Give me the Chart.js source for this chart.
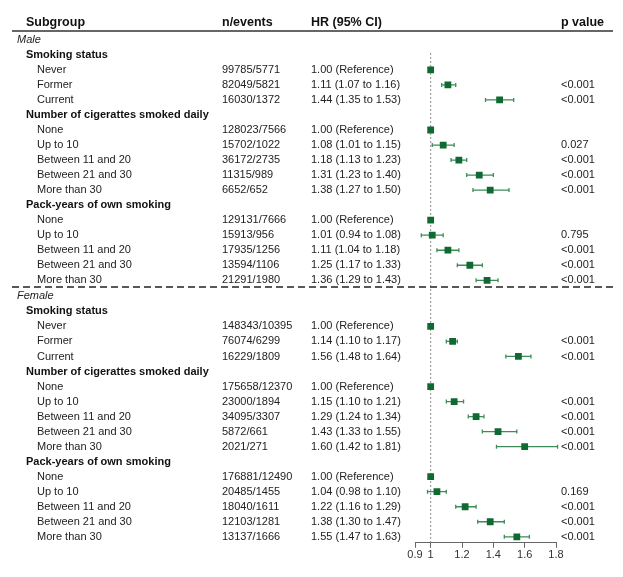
<!DOCTYPE html>
<html>
<head>
<meta charset="utf-8">
<script src="https://cdn.jsdelivr.net/npm/chart.js@4.4.1/dist/chart.umd.min.js"></script>
<style>
  html, body { margin: 0; padding: 0; background: #fff; }
  #wrap { width: 623px; height: 577px; position: relative; }
</style>
</head>
<body>
<div id="wrap"><canvas id="forest"></canvas></div>
<script>
/* ================= DATA ================= */
const sexes = ["Male", "Female"];
const groupTitles = ["Smoking status", "Number of cigerattes smoked daily", "Pack-years of own smoking"];
const groupLevels = [
  ["Never", "Former", "Current"],
  ["None", "Up to 10", "Between 11 and 20", "Between 21 and 30", "More than 30"],
  ["None", "Up to 10", "Between 11 and 20", "Between 21 and 30", "More than 30"]
];

const maleEvents = ["99785/5771", "82049/5821", "16030/1372", "128023/7566", "15702/1022", "36172/2735", "11315/989", "6652/652", "129131/7666", "15913/956", "17935/1256", "13594/1106", "21291/1980"];
const maleHR   = [1.00, 1.11, 1.44, 1.00, 1.08, 1.18, 1.31, 1.38, 1.00, 1.01, 1.11, 1.25, 1.36];
const maleLow  = [null, 1.07, 1.35, null, 1.01, 1.13, 1.23, 1.27, null, 0.94, 1.04, 1.17, 1.29];
const maleHigh = [null, 1.16, 1.53, null, 1.15, 1.23, 1.40, 1.50, null, 1.08, 1.18, 1.33, 1.43];
const maleP    = ["", "<0.001", "<0.001", "", "0.027", "<0.001", "<0.001", "<0.001", "", "0.795", "<0.001", "<0.001", "<0.001"];

const femaleEvents = ["148343/10395", "76074/6299", "16229/1809", "175658/12370", "23000/1894", "34095/3307", "5872/661", "2021/271", "176881/12490", "20485/1455", "18040/1611", "12103/1281", "13137/1666"];
const femaleHR   = [1.00, 1.14, 1.56, 1.00, 1.15, 1.29, 1.43, 1.60, 1.00, 1.04, 1.22, 1.38, 1.55];
const femaleLow  = [null, 1.10, 1.48, null, 1.10, 1.24, 1.33, 1.42, null, 0.98, 1.16, 1.30, 1.47];
const femaleHigh = [null, 1.17, 1.64, null, 1.21, 1.34, 1.55, 1.81, null, 1.10, 1.29, 1.47, 1.63];
const femaleP    = ["", "<0.001", "<0.001", "", "<0.001", "<0.001", "<0.001", "<0.001", "", "0.169", "<0.001", "<0.001", "<0.001"];

const xTicks = [0.9, 1, 1.2, 1.4, 1.6, 1.8];

/* ================= ROWS ================= */
const FONT = '"Liberation Sans", Arial, sans-serif';
const sexData = [
  { events: maleEvents, hr: maleHR, lo: maleLow, hi: maleHigh, p: maleP, offset: 0 },
  { events: femaleEvents, hr: femaleHR, lo: femaleLow, hi: femaleHigh, p: femaleP, offset: 17.07 }
];

const rows = [];
const items = [];
sexes.forEach((sex, s) => {
  const d = sexData[s];
  let row = d.offset;
  rows.push({ kind: "sex", text: sex, y: row });
  row++;
  let k = 0;
  groupTitles.forEach((title, g) => {
    rows.push({ kind: "group", text: title, y: row });
    row++;
    groupLevels[g].forEach(level => {
      const it = {
        kind: "item", text: level, y: row,
        events: d.events[k], hr: d.hr[k], lo: d.lo[k], hi: d.hi[k], p: d.p[k]
      };
      it.hrText = it.lo === null
        ? "1.00 (Reference)"
        : `${it.hr.toFixed(2)} (${it.lo.toFixed(2)} to ${it.hi.toFixed(2)})`;
      rows.push(it);
      items.push(it);
      row++;
      k++;
    });
  });
});

const GREEN = "#0f6a31";
const WHISKER = "#3d8c5a";

/* ================= PLUGIN: table text + whiskers ================= */
const forestPlugin = {
  id: "forestPlugin",
  beforeDatasetsDraw(chart) {
    const { ctx, scales: { x, y } } = chart;
    ctx.save();
    // reference line at HR = 1
    ctx.strokeStyle = "#8a8a8a";
    ctx.lineWidth = 1;
    ctx.setLineDash([2, 2]);
    ctx.beginPath();
    ctx.moveTo(x.getPixelForValue(1), y.getPixelForValue(0.87));
    ctx.lineTo(x.getPixelForValue(1), chart.chartArea.bottom);
    ctx.stroke();
    ctx.setLineDash([]);

    // confidence intervals
    ctx.strokeStyle = WHISKER;
    ctx.lineWidth = 1.3;
    items.forEach(it => {
      if (it.lo === null) return;
      const py = y.getPixelForValue(it.y);
      const x1 = x.getPixelForValue(it.lo);
      const x2 = x.getPixelForValue(it.hi);
      ctx.beginPath();
      ctx.moveTo(x1, py); ctx.lineTo(x2, py);
      ctx.moveTo(x1, py - 2); ctx.lineTo(x1, py + 2);
      ctx.moveTo(x2, py - 2); ctx.lineTo(x2, py + 2);
      ctx.stroke();
    });
    ctx.restore();
  },
  afterDraw(chart) {
    const { ctx, scales: { y } } = chart;
    ctx.save();
    ctx.textBaseline = "middle";
    ctx.textAlign = "left";

    // header
    const hy = y.getPixelForValue(-1.15);
    ctx.fillStyle = "#111";
    ctx.font = `bold 12.5px ${FONT}`;
    ctx.fillText("Subgroup", 26, hy);
    ctx.fillText("n/events", 222, hy);
    ctx.fillText("HR (95% CI)", 311, hy);
    ctx.fillText("p value", 561, hy);

    // header rule
    ctx.strokeStyle = "#666";
    ctx.lineWidth = 2;
    ctx.beginPath();
    const ly = Math.round(y.getPixelForValue(-0.6));
    ctx.moveTo(12, ly); ctx.lineTo(613, ly);
    ctx.stroke();

    // separator between sexes
    ctx.strokeStyle = "#222";
    ctx.lineWidth = 1.5;
    ctx.setLineDash([7, 4]);
    const sy = Math.round(y.getPixelForValue(16.47));
    ctx.beginPath();
    ctx.moveTo(12, sy); ctx.lineTo(613, sy);
    ctx.stroke();
    ctx.setLineDash([]);

    rows.forEach(r => {
      const py = y.getPixelForValue(r.y);
      if (r.kind === "sex") {
        ctx.fillStyle = "#222";
        ctx.font = `italic 11px ${FONT}`;
        ctx.fillText(r.text, 17, py);
      } else if (r.kind === "group") {
        ctx.fillStyle = "#111";
        ctx.font = `bold 11px ${FONT}`;
        ctx.fillText(r.text, 26, py);
      } else {
        ctx.fillStyle = "#222";
        ctx.font = `11px ${FONT}`;
        ctx.fillText(r.text, 37, py);
        ctx.fillText(r.events, 222, py);
        ctx.fillText(r.hrText, 311, py);
        if (r.p) ctx.fillText(r.p, 561, py);
      }
    });
    ctx.restore();
  }
};

/* ================= CHART ================= */
new Chart(document.getElementById("forest"), {
  type: "scatter",
  data: {
    datasets: [{
      data: items.map(it => ({ x: it.hr, y: it.y })),
      pointStyle: "rect",
      pointRadius: 4.8,
      pointHoverRadius: 4.8,
      backgroundColor: GREEN,
      borderColor: GREEN,
      borderWidth: 0
    }]
  },
  options: {
    responsive: true,
    maintainAspectRatio: false,
    animation: false,
    layout: { padding: { left: 415, right: 67, top: 0, bottom: 14 } },
    plugins: { legend: { display: false }, tooltip: { enabled: false } },
    scales: {
      x: {
        type: "linear",
        min: 0.9,
        max: 1.8,
        afterBuildTicks: axis => { axis.ticks = xTicks.map(v => ({ value: v })); },
        ticks: {
          color: "#333",
          padding: 1,
          font: { family: FONT, size: 11 },
          callback: v => String(v)
        },
        grid: { drawOnChartArea: false, drawTicks: true, tickLength: 5, color: "#666" },
        border: { display: true, color: "#666", width: 1 }
      },
      y: {
        type: "linear",
        display: false,
        reverse: true,
        min: -2.333,
        max: 33.47
      }
    }
  },
  plugins: [forestPlugin]
});
</script>
</body>
</html>
